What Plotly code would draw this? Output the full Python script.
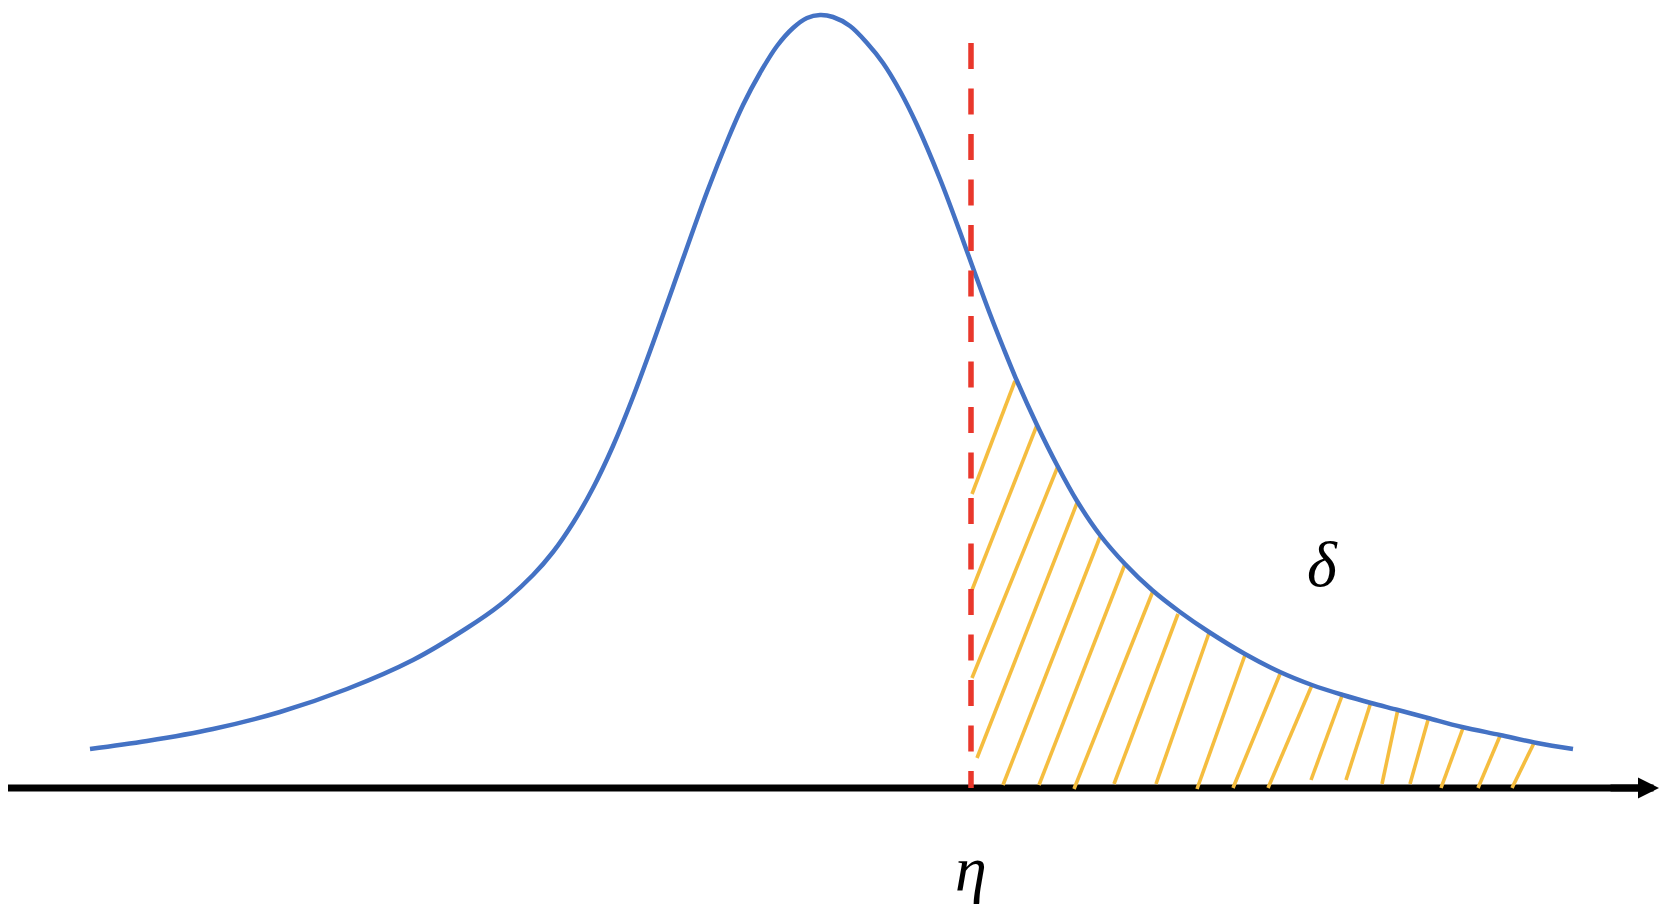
import plotly.graph_objects as go

# ---- data (diagram units: threshold eta at x=0, axis at y=0) ----
curve_x = [-8.81, -8.24, -7.58, -6.91, -6.24, -5.58, -5.04, -4.71, -4.38, -4.18,
           -3.98, -3.78, -3.58, -3.38, -3.18, -2.98, -2.64, -2.43, -2.28, -2.11,
           -1.94, -1.78, -1.64, -1.51, -1.38, -1.21, -1.04, -0.88, -0.71, -0.54,
           -0.31, -0.11, 0.02, 0.19, 0.32, 0.46, 0.66, 0.86, 1.06, 1.29,
           1.54, 1.81, 2.09, 2.38, 2.74, 3.09, 3.41, 3.72, 4.00, 4.27,
           4.57, 4.91, 5.29, 5.66, 6.02]
curve_y = [0.39, 0.47, 0.59, 0.76, 0.99, 1.28, 1.60, 1.83, 2.13, 2.36,
           2.65, 3.00, 3.42, 3.91, 4.45, 5.01, 5.96, 6.49, 6.83, 7.15,
           7.42, 7.60, 7.70, 7.73, 7.71, 7.62, 7.45, 7.25, 6.97, 6.63,
           6.09, 5.56, 5.20, 4.74, 4.41, 4.07, 3.63, 3.23, 2.87, 2.53,
           2.24, 1.98, 1.76, 1.56, 1.34, 1.16, 1.03, 0.93, 0.85, 0.78,
           0.70, 0.61, 0.53, 0.45, 0.39]

eta = 0.0
eta_top = 7.45

hatch_top_x = [0.44, 0.66, 0.87, 1.06, 1.29, 1.54, 1.82, 2.07, 2.38, 2.74,
               3.09, 3.41, 3.72, 4.00, 4.27, 4.57, 4.92, 5.29, 5.63]
hatch_top_y = [4.07, 3.63, 3.22, 2.85, 2.51, 2.24, 1.97, 1.74, 1.55, 1.33,
               1.14, 1.03, 0.95, 0.86, 0.79, 0.68, 0.60, 0.52, 0.45]
hatch_bot_x = [0.01, 0.01, 0.01, 0.06, 0.32, 0.68, 1.03, 1.43, 1.85, 2.26,
               2.62, 2.97, 3.40, 3.75, 4.11, 4.39, 4.70, 5.07, 5.41]
hatch_bot_y = [2.94, 1.98, 1.10, 0.30, 0.03, 0.03, -0.01, 0.04, 0.04, -0.01,
               0.00, 0.00, 0.08, 0.08, 0.04, 0.04, 0.00, 0.00, 0.00]

axis_start = -9.66
axis_end = 6.88

eta_label = "η"
delta_label = "δ"
delta_pos = (3.51, 2.24)
eta_label_y = -0.80

# page has an 8px body margin, so the ranges are offset accordingly
x_range = [-9.63, 7.11]
y_range = [-1.32, 7.80]

# ---- figure ----
BLUE = "#4472C4"
RED = "#E9372B"
YELLOW = "#F5BD3F"

hx, hy = [], []
for xt, yt, xb, yb in zip(hatch_top_x, hatch_top_y, hatch_bot_x, hatch_bot_y):
    hx += [xb, xt, None]
    hy += [yb, yt, None]

fig = go.Figure()

fig.add_trace(go.Scatter(x=[axis_start, axis_end - 0.1], y=[0, 0], mode="lines",
                         line=dict(color="black", width=7), hoverinfo="skip"))
fig.add_trace(go.Scatter(x=hx, y=hy, mode="lines",
                         line=dict(color=YELLOW, width=3.6), hoverinfo="skip"))
fig.add_trace(go.Scatter(x=curve_x, y=curve_y, mode="lines",
                         line=dict(color=BLUE, width=4.5, shape="spline", smoothing=1.0),
                         hoverinfo="skip"))
fig.add_trace(go.Scatter(x=[eta, eta], y=[eta_top, 0], mode="lines",
                         line=dict(color=RED, width=5.5, dash="26px,19.5px"),
                         hoverinfo="skip"))

fig.add_annotation(x=axis_end, y=0, ax=axis_end - 0.5, ay=0, axref="x", ayref="y",
                   xref="x", yref="y", text="", showarrow=True,
                   arrowhead=2, arrowwidth=7, arrowsize=0.6, arrowcolor="black")

fig.add_annotation(x=eta, y=eta_label_y, xref="x", yref="y", text="<i>" + eta_label + "</i>",
                   showarrow=False, font=dict(family="Liberation Serif", size=64, color="black"))
fig.add_annotation(x=delta_pos[0], y=delta_pos[1], xref="x", yref="y",
                   text="<i>" + delta_label + "</i>", showarrow=False,
                   font=dict(family="Liberation Serif", size=64, color="black"))

fig.update_layout(width=1674, height=912, margin=dict(l=0, r=0, t=0, b=0),
                  plot_bgcolor="white", paper_bgcolor="white", showlegend=False)
fig.update_xaxes(range=x_range, visible=False, showgrid=False, zeroline=False)
fig.update_yaxes(range=y_range, visible=False, showgrid=False, zeroline=False)

fig.write_html("out.html")
